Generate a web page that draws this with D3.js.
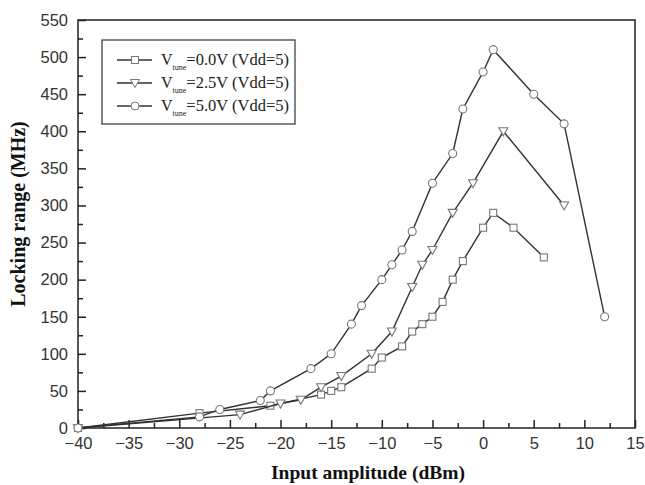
<!DOCTYPE html>
<html lang="en">
<head>
<meta charset="UTF-8">
<title>Locking range vs input amplitude</title>
<script src="https://d3js.org/d3.v7.min.js"></script>
<style>
    body { margin: 0; background: #fff; }
    .tick text { font-family: "Liberation Sans", Arial, sans-serif; font-size: 16.5px; fill: #333; }
    .axis path, .axis line { stroke: #222; }
    .title { font-family: "Liberation Serif", "Times New Roman", serif; font-weight: bold; fill: #111; }
    .legend text { font-family: "Liberation Serif", "Times New Roman", serif; font-size: 16px; fill: #222; }
</style>
</head>
<body>
<svg id="chart" width="645" height="485"></svg>
<script>
// data
const s0x = [-40, -28, -21, -16, -15, -14, -11, -10, -8, -7, -6, -5, -4, -3, -2, 0, 1, 3, 6];
const s0y = [0, 20, 30, 45, 50, 55, 80, 95, 110, 130, 140, 150, 170, 200, 225, 270, 290, 270, 230];
const s1x = [-40, -24, -20, -18, -16, -14, -11, -9, -7, -6, -5, -3, -1, 2, 8];
const s1y = [0, 18, 33, 38, 55, 70, 100, 130, 190, 220, 240, 290, 330, 400, 300];
const s2x = [-40, -28, -26, -22, -21, -17, -15, -13, -12, -10, -9, -8, -7, -5, -3, -2, 0, 1, 5, 8, 12];
const s2y = [0, 15, 25, 37, 50, 80, 100, 140, 165, 200, 220, 240, 265, 330, 370, 430, 480, 510, 450, 410, 150];
const labels = ["=0.0V (Vdd=5)", "=2.5V (Vdd=5)", "=5.0V (Vdd=5)"];
const xTicks = d3.range(-40, 16, 5);
const yTicks = d3.range(0, 551, 50);

const series = [
    { xs: s0x, ys: s0y, sym: "square" },
    { xs: s1x, ys: s1y, sym: "tri" },
    { xs: s2x, ys: s2y, sym: "circle" }
];

const svg = d3.select("#chart");
const pLeft = 78, pRight = 635, pTop = 20, pBottom = 428;

const x = d3.scaleLinear().domain([-40, 15]).range([pLeft, pRight]);
const y = d3.scaleLinear().domain([0, 550]).range([pBottom, pTop]);

// frame
svg.append("rect")
    .attr("x", pLeft).attr("y", pTop)
    .attr("width", pRight - pLeft).attr("height", pBottom - pTop)
    .attr("fill", "none").attr("stroke", "#222").attr("stroke-width", 1.5);

// axes, ticks pointing inside
svg.append("g").attr("class", "axis")
    .attr("transform", `translate(0,${pBottom})`)
    .call(d3.axisBottom(x).tickValues(xTicks).tickSize(-8).tickPadding(9));
svg.append("g").attr("class", "axis")
    .attr("transform", `translate(0,${pBottom})`)
    .call(d3.axisBottom(x).tickValues(d3.range(-37.5, 15, 5)).tickSize(-5).tickFormat(""));
svg.append("g").attr("class", "axis")
    .attr("transform", `translate(${pLeft},0)`)
    .call(d3.axisLeft(y).tickValues(yTicks).tickSize(-8).tickPadding(10));
svg.append("g").attr("class", "axis")
    .attr("transform", `translate(${pLeft},0)`)
    .call(d3.axisLeft(y).tickValues(d3.range(25, 550, 50)).tickSize(-5).tickFormat(""));
svg.selectAll(".axis path.domain").remove();
svg.selectAll(".axis line").attr("stroke-width", 1.5);

// axis titles
svg.append("text").attr("class", "title")
    .attr("x", 368).attr("y", 479)
    .attr("text-anchor", "middle")
    .attr("font-size", "19.5px")
    .text("Input amplitude (dBm)");
svg.append("text").attr("class", "title")
    .attr("transform", "translate(25,214) rotate(-90)")
    .attr("text-anchor", "middle")
    .attr("font-size", "20px")
    .text("Locking range (MHz)");

function marker(g, sym, cx, cy) {
    if (sym === "square") {
        g.append("rect").attr("x", cx - 3.5).attr("y", cy - 3.5)
            .attr("width", 7).attr("height", 7);
    } else if (sym === "tri") {
        g.append("path").attr("d", `M${cx - 4.5},${cy - 3.5} L${cx + 4.5},${cy - 3.5} L${cx},${cy + 4.5} Z`);
    } else {
        g.append("circle").attr("cx", cx).attr("cy", cy).attr("r", 4);
    }
}

const line = d3.line().x(d => x(d[0])).y(d => y(d[1]));

series.forEach(s => {
    const pts = s.xs.map((v, i) => [v, s.ys[i]]);
    svg.append("path")
        .attr("d", line(pts))
        .attr("fill", "none")
        .attr("stroke", "#333")
        .attr("stroke-width", 1.4);
    const g = svg.append("g").attr("fill", "#fff").attr("stroke", "#777").attr("stroke-width", 1.1);
    pts.forEach(p => marker(g, s.sym, x(p[0]), y(p[1])));
});

// legend
const lg = svg.append("g").attr("class", "legend");
lg.append("rect").attr("x", 102).attr("y", 40).attr("width", 193).attr("height", 84)
    .attr("fill", "#fff").attr("stroke", "#333").attr("stroke-width", 1.2);
series.forEach((s, i) => {
    const cy = 60 + i * 23;
    lg.append("line").attr("x1", 117).attr("x2", 152).attr("y1", cy).attr("y2", cy)
        .attr("stroke", "#333").attr("stroke-width", 1.4);
    const g = lg.append("g").attr("fill", "#fff").attr("stroke", "#777").attr("stroke-width", 1);
    marker(g, s.sym, 135, cy);
    const t = lg.append("text").attr("x", 161).attr("y", cy + 5);
    t.append("tspan").text("V");
    t.append("tspan").attr("font-size", "8px").attr("dy", 5).text("tune");
    t.append("tspan").attr("dy", -5).attr("font-size", "16.5px").text(labels[i]);
});
</script>
</body>
</html>
